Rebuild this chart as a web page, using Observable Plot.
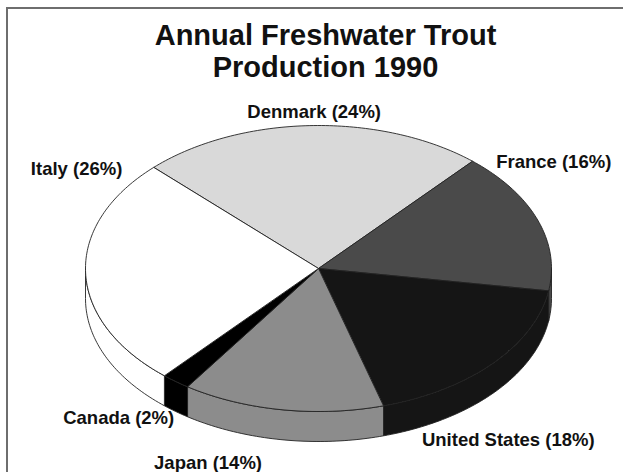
<!DOCTYPE html>
<html>
<head>
<meta charset="utf-8">
<script src="https://cdn.jsdelivr.net/npm/d3@7"></script>
<script src="https://cdn.jsdelivr.net/npm/@observablehq/plot@0.6"></script>
<style>
  html, body { margin: 0; padding: 0; background: #fff; overflow: hidden; }
  #wrap { position: relative; width: 623px; height: 472px; overflow: hidden; }
  #border { position: absolute; left: 6px; top: 7px; width: 700px; height: 600px;
            border: 2px solid #6e6e6e; pointer-events: none; box-sizing: border-box; }
</style>
</head>
<body>
<div id="wrap"><div id="border"></div></div>
<script>
// ---- data ----
const countries = ["Denmark", "France", "United States", "Japan", "Canada", "Italy"];
const shares = [24, 16, 18, 14, 2, 26];
const titleLines = ["Annual Freshwater Trout", "Production 1990"];

// ---- layout / style ----
const grays = ["#d9d9d9", "#4a4a4a", "#151515", "#8c8c8c", "#000000", "#ffffff"];
const startDeg = -135;             // Italy/Denmark boundary (parametric angle, y down)
const depth = 30 / 143;            // side thickness in y-units
// label nudges (pixels) from the rim at each slice's mid-angle
const labelNudge = {
  "Denmark": [3, -8], "France": [16, -52], "United States": [15, 83],
  "Japan": [-74, 59], "Canada": [-57, 43], "Italy": [-9, -98]
};
const RX = 233, RY = 143;

const rad = d => d * Math.PI / 180;
const total = d3.sum(shares);
let cum = 0;
const slices = countries.map((name, i) => {
  const a0 = startDeg + cum / total * 360;
  cum += shares[i];
  const a1 = startDeg + cum / total * 360;
  return {name, share: shares[i], a0, a1};
});

function arc(a, b, yOff = 0) {
  const n = Math.max(2, Math.ceil(Math.abs(b - a)));
  return d3.range(n + 1).map(k => {
    const t = rad(a + (b - a) * k / n);
    return [Math.cos(t), Math.sin(t) + yOff];
  });
}

const tops = [];
const sides = [];
for (const s of slices) {
  const pts = [[0, 0], ...arc(s.a0, s.a1), [0, 0]];
  pts.forEach(([x, y]) => tops.push({name: s.name, x, y}));
  const lo = Math.max(s.a0, 0), hi = Math.min(s.a1, 180);
  if (lo < hi) {
    const sp = [...arc(lo, hi), ...arc(hi, lo, depth)];
    sp.push(sp[0]);
    sp.forEach(([x, y]) => sides.push({name: s.name, x, y}));
  }
}

const labels = slices.map(s => {
  const t = rad((s.a0 + s.a1) / 2);
  const [nx, ny] = labelNudge[s.name];
  return {
    text: `${s.name} (${s.share}%)`,
    x: Math.cos(t) + nx / RX,
    y: Math.sin(t) + ny / RY
  };
});

const chart = Plot.plot({
  width: 623,
  height: 472,
  margin: 0,
  style: {background: "transparent", fontFamily: "'Liberation Sans', Arial, Helvetica, sans-serif"},
  x: {domain: [-1, 1], range: [318 - RX, 318 + RX], axis: null},
  y: {domain: [-1, 1], range: [268 - RY, 268 + RY], axis: null},
  color: {type: "ordinal", domain: countries, range: grays},
  marks: [
    Plot.line(sides, {x: "x", y: "y", z: "name", fill: "name", stroke: "#222", strokeWidth: 0.9, curve: "linear"}),
    Plot.line(tops, {x: "x", y: "y", z: "name", fill: "name", stroke: "#222", strokeWidth: 0.9, curve: "linear", strokeLinejoin: "round"}),
    Plot.text(labels, {x: "x", y: "y", text: "text", lineAnchor: "bottom", fontSize: 18.5, fontWeight: "bold", fill: "#111"}),
    Plot.text([titleLines.join("\n")], {frameAnchor: "top", dx: 13.5, dy: 22, lineAnchor: "top", lineHeight: 1.1, fontSize: 29, fontWeight: "bold", fill: "#111"})
  ]
});
document.getElementById("wrap").prepend(chart);
</script>
</body>
</html>
